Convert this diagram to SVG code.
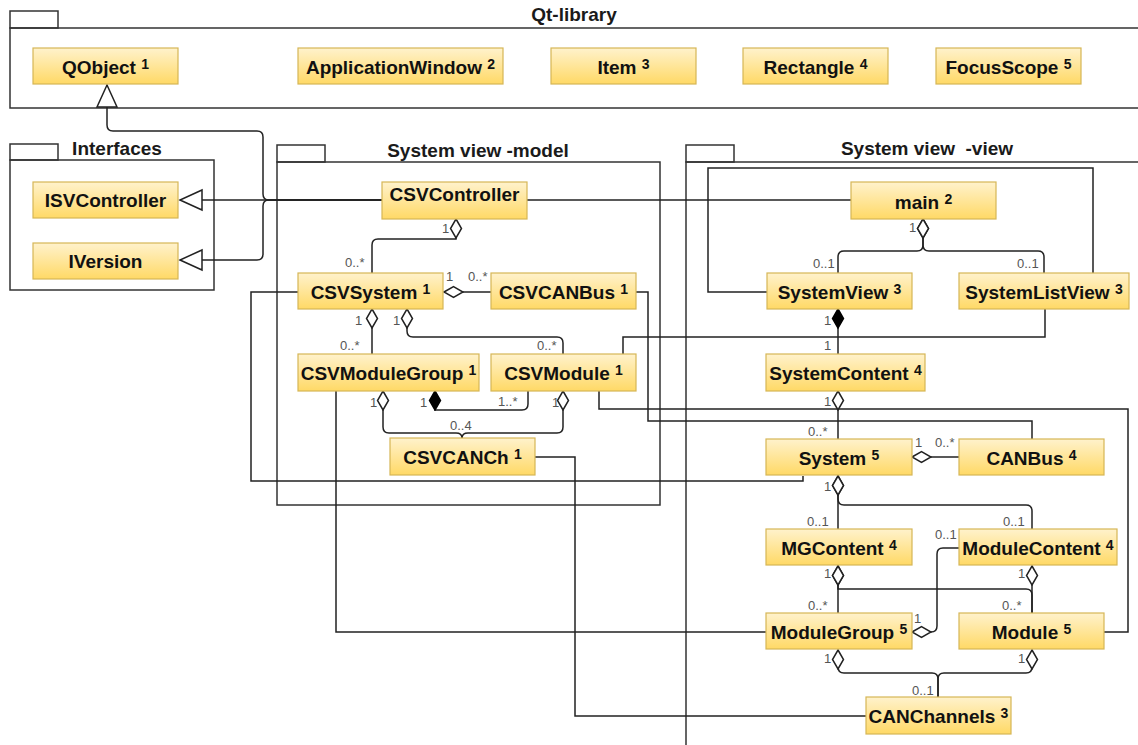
<svg xmlns="http://www.w3.org/2000/svg" width="1138" height="745" viewBox="0 0 1138 745">
<style>
.pkg{fill:none;stroke:#333;stroke-width:1.5}
.ptitle{font-family:"Liberation Sans",Arial,sans-serif;font-size:19px;font-weight:bold;fill:#1a1a1a;text-anchor:middle;white-space:pre}
.box{fill:url(#yel);stroke:#d6b656;stroke-width:1.2}
.lbl{font-family:"Liberation Sans",Arial,sans-serif;font-size:19px;font-weight:bold;fill:#111;text-anchor:middle}
.sup{font-size:14px}
.e{fill:none;stroke:#222;stroke-width:1.5}
.agg{marker-start:url(#odia)}
.comp{marker-start:url(#fdia)}
.gen{marker-end:url(#tri)}
.m{font-family:"Liberation Sans",Arial,sans-serif;font-size:13px;fill:#555}
</style>
<defs>
<linearGradient id="yel" x1="0" y1="0" x2="0" y2="1">
<stop offset="0" stop-color="#fff2cc"/>
<stop offset="1" stop-color="#ffd966"/>
</linearGradient>
<marker id="odia" viewBox="-1 -7 21 14" refX="0" refY="0" markerWidth="21" markerHeight="14" markerUnits="userSpaceOnUse" orient="auto">
<path d="M0,0 L9.5,-5.5 L19,0 L9.5,5.5 Z" fill="#fff" stroke="#222" stroke-width="1.5"/>
</marker>
<marker id="fdia" viewBox="-1 -7 21 14" refX="0" refY="0" markerWidth="21" markerHeight="14" markerUnits="userSpaceOnUse" orient="auto">
<path d="M0,0 L9.5,-5.5 L19,0 L9.5,5.5 Z" fill="#000" stroke="#000" stroke-width="1.5"/>
</marker>
<marker id="tri" viewBox="-24 -12 26 24" refX="0" refY="0" markerWidth="26" markerHeight="24" markerUnits="userSpaceOnUse" orient="auto">
<path d="M0,0 L-22,-10 L-22,10 Z" fill="#fff" stroke="#222" stroke-width="1.5"/>
</marker>
</defs>

<g id="packages">
<g id="pkg-qt">
<rect class="pkg" x="10" y="11" width="48" height="17"/>
<rect class="pkg" x="10" y="28" width="1140" height="80"/>
<text class="ptitle" x="574" y="21">Qt-library</text>
</g>
<g id="pkg-interfaces">
<rect class="pkg" x="10" y="144" width="48" height="16"/>
<rect class="pkg" x="10" y="160" width="204" height="130"/>
<text class="ptitle" x="117" y="155">Interfaces</text>
</g>
<g id="pkg-model">
<rect class="pkg" x="277" y="145" width="48" height="17"/>
<rect class="pkg" x="277" y="162" width="383" height="343"/>
<text class="ptitle" x="478" y="157">System view -model</text>
</g>
<g id="pkg-view">
<rect class="pkg" x="686" y="145" width="48" height="17"/>
<rect class="pkg" x="686" y="162" width="470" height="600"/>
<text class="ptitle" x="927" y="155" xml:space="preserve">System view  -view</text>
</g>
</g>

<g id="connectors">
<path class="e gen" d="M382,200 L180,200"/>
<path class="e gen" d="M382,200 L269,200 Q263,200 263,206 L263,254 Q263,260 257,260 L180,260"/>
<path class="e gen" d="M382,200 L269,200 Q263,200 263,194 L263,137 Q263,131 257,131 L113,131 Q107,131 107,125 L107,85"/>
<path class="e" d="M527,200 L851,200"/>
<path class="e agg" d="M456,219 L456,239 L378,239 Q372,239 372,245 L372,273"/>
<path class="e agg" d="M444,292 L491,292"/>
<path class="e agg" d="M372,309 L372,354"/>
<path class="e agg" d="M407,309 L407,331 Q407,337 413,337 L557,337 Q563,337 563,343 L563,354"/>
<path class="e agg" d="M383,391 L383,427 Q383,433 389,433 L456,433 Q462,433 462,438"/>
<path class="e agg" d="M563,391 L563,427 Q563,433 557,433 L468,433 Q462,433 462,438"/>
<path class="e comp" d="M435,391 L435,410 L522,410 Q528,410 528,404 L528,391"/>
<path class="e" d="M298,292 L251,292 L251,481 L803,481 L803,476"/>
<path class="e" d="M636,292 L648,292 L648,421 L1032,421 L1032,439"/>
<path class="e" d="M599,391 L599,409 L1128,409 L1128,632 L1104,632"/>
<path class="e" d="M623,354 L623,337 L1045,337 L1045,309"/>
<path class="e" d="M336,391 L336,632 L766,632"/>
<path class="e" d="M535,457 L575,457 L575,716 L866,716"/>
<path class="e" d="M767,292 L708,292 L708,168 L1093,168 L1093,273"/>
<path class="e agg" d="M923,219 L923,245 Q923,251 917,251 L844,251 Q838,251 838,257 L838,273"/>
<path class="e agg" d="M923,219 L923,245 Q923,251 929,251 L1038,251 Q1044,251 1044,257 L1044,273"/>
<path class="e comp" d="M838,309 L838,354"/>
<path class="e agg" d="M838,391 L838,439"/>
<path class="e agg" d="M912,457 L959,457"/>
<path class="e agg" d="M838,476 L838,499 Q838,505 844,505 L1026,505 Q1032,505 1032,511 L1032,529"/>
<path class="e agg" d="M838,476 L838,529"/>
<path class="e agg" d="M838,566 L838,589 L1026,589 Q1032,589 1032,595 L1032,613"/>
<path class="e agg" d="M838,566 L838,613"/>
<path class="e agg" d="M1032,566 L1032,613"/>
<path class="e agg" d="M912,632 L931,632 Q937,632 937,626 L937,554 Q937,548 943,548 L959,548"/>
<path class="e agg" d="M838,650 L838,667 Q838,673 844,673 L932,673 Q938,673 938,679 L938,697"/>
<path class="e agg" d="M1032,650 L1032,667 Q1032,673 1026,673 L944,673 Q938,673 938,679 L938,697"/>
<g id="multiplicities">
<text class="m" x="442" y="233">1</text>
<text class="m" x="345" y="267">0..*</text>
<text class="m" x="446" y="281">1</text>
<text class="m" x="468" y="281">0..*</text>
<text class="m" x="355" y="325">1</text>
<text class="m" x="340" y="350">0..*</text>
<text class="m" x="393" y="325">1</text>
<text class="m" x="537" y="350">0..*</text>
<text class="m" x="370" y="407">1</text>
<text class="m" x="420" y="407">1</text>
<text class="m" x="498" y="406">1..*</text>
<text class="m" x="552" y="407">1</text>
<text class="m" x="450" y="430">0..4</text>
<text class="m" x="909" y="232">1</text>
<text class="m" x="813" y="268">0..1</text>
<text class="m" x="1017" y="268">0..1</text>
<text class="m" x="824" y="325">1</text>
<text class="m" x="824" y="350">1</text>
<text class="m" x="824" y="406">1</text>
<text class="m" x="808" y="436">0..*</text>
<text class="m" x="915" y="447">1</text>
<text class="m" x="935" y="447">0..*</text>
<text class="m" x="824" y="491">1</text>
<text class="m" x="807" y="526">0..1</text>
<text class="m" x="1003" y="526">0..1</text>
<text class="m" x="935" y="539">0..1</text>
<text class="m" x="824" y="578">1</text>
<text class="m" x="808" y="610">0..*</text>
<text class="m" x="1018" y="578">1</text>
<text class="m" x="1002" y="610">0..*</text>
<text class="m" x="914" y="623">1</text>
<text class="m" x="824" y="663">1</text>
<text class="m" x="1018" y="663">1</text>
<text class="m" x="912" y="695">0..1</text>
</g>
</g>

<g id="n-qobject"><rect class="box" x="33" y="48" width="145" height="36"/><text class="lbl" x="105.5" y="74">QObject <tspan class="sup" dy="-5">1</tspan></text></g>
<g id="n-appwindow"><rect class="box" x="298" y="48" width="205" height="36"/><text class="lbl" x="400.5" y="74">ApplicationWindow <tspan class="sup" dy="-5">2</tspan></text></g>
<g id="n-item"><rect class="box" x="551" y="48" width="145" height="36"/><text class="lbl" x="623.5" y="74">Item <tspan class="sup" dy="-5">3</tspan></text></g>
<g id="n-rectangle"><rect class="box" x="743" y="48" width="145" height="36"/><text class="lbl" x="815.5" y="74">Rectangle <tspan class="sup" dy="-5">4</tspan></text></g>
<g id="n-focusscope"><rect class="box" x="936" y="48" width="145" height="36"/><text class="lbl" x="1008.5" y="74">FocusScope <tspan class="sup" dy="-5">5</tspan></text></g>
<g id="n-isvcontroller"><rect class="box" x="33" y="182" width="145" height="36"/><text class="lbl" x="105.5" y="207">ISVController</text></g>
<g id="n-iversion"><rect class="box" x="33" y="243" width="145" height="36"/><text class="lbl" x="105.5" y="268">IVersion</text></g>
<g id="n-csvcontroller"><rect class="box" x="382" y="182" width="145" height="37"/><text class="lbl" x="454.5" y="201">CSVController</text></g>
<g id="n-csvsystem"><rect class="box" x="298" y="273" width="145" height="36"/><text class="lbl" x="370.5" y="299">CSVSystem <tspan class="sup" dy="-5">1</tspan></text></g>
<g id="n-csvcanbus"><rect class="box" x="491" y="273" width="145" height="36"/><text class="lbl" x="563.5" y="299">CSVCANBus <tspan class="sup" dy="-5">1</tspan></text></g>
<g id="n-csvmodulegroup"><rect class="box" x="298" y="354" width="181" height="37"/><text class="lbl" x="388.5" y="380">CSVModuleGroup <tspan class="sup" dy="-5">1</tspan></text></g>
<g id="n-csvmodule"><rect class="box" x="491" y="354" width="145" height="37"/><text class="lbl" x="563.5" y="380">CSVModule <tspan class="sup" dy="-5">1</tspan></text></g>
<g id="n-csvcanch"><rect class="box" x="390" y="438" width="145" height="37"/><text class="lbl" x="462.5" y="464">CSVCANCh <tspan class="sup" dy="-5">1</tspan></text></g>
<g id="n-main"><rect class="box" x="851" y="182" width="145" height="37"/><text class="lbl" x="923.5" y="209">main <tspan class="sup" dy="-5">2</tspan></text></g>
<g id="n-systemview"><rect class="box" x="767" y="273" width="145" height="36"/><text class="lbl" x="839.5" y="299">SystemView <tspan class="sup" dy="-5">3</tspan></text></g>
<g id="n-systemlistview"><rect class="box" x="959" y="273" width="170" height="36"/><text class="lbl" x="1044" y="299">SystemListView <tspan class="sup" dy="-5">3</tspan></text></g>
<g id="n-systemcontent"><rect class="box" x="766" y="354" width="159" height="37"/><text class="lbl" x="845.5" y="380">SystemContent <tspan class="sup" dy="-5">4</tspan></text></g>
<g id="n-system"><rect class="box" x="766" y="439" width="146" height="36"/><text class="lbl" x="839" y="465">System <tspan class="sup" dy="-5">5</tspan></text></g>
<g id="n-canbus"><rect class="box" x="959" y="439" width="145" height="36"/><text class="lbl" x="1031.5" y="465">CANBus <tspan class="sup" dy="-5">4</tspan></text></g>
<g id="n-mgcontent"><rect class="box" x="766" y="529" width="146" height="36"/><text class="lbl" x="839" y="555">MGContent <tspan class="sup" dy="-5">4</tspan></text></g>
<g id="n-modulecontent"><rect class="box" x="959" y="529" width="158" height="36"/><text class="lbl" x="1038" y="555">ModuleContent <tspan class="sup" dy="-5">4</tspan></text></g>
<g id="n-modulegroup"><rect class="box" x="766" y="613" width="146" height="36"/><text class="lbl" x="839" y="639">ModuleGroup <tspan class="sup" dy="-5">5</tspan></text></g>
<g id="n-module"><rect class="box" x="959" y="613" width="145" height="36"/><text class="lbl" x="1031.5" y="639">Module <tspan class="sup" dy="-5">5</tspan></text></g>
<g id="n-canchannels"><rect class="box" x="866" y="697" width="145" height="37"/><text class="lbl" x="938.5" y="723">CANChannels <tspan class="sup" dy="-5">3</tspan></text></g>
</svg>
